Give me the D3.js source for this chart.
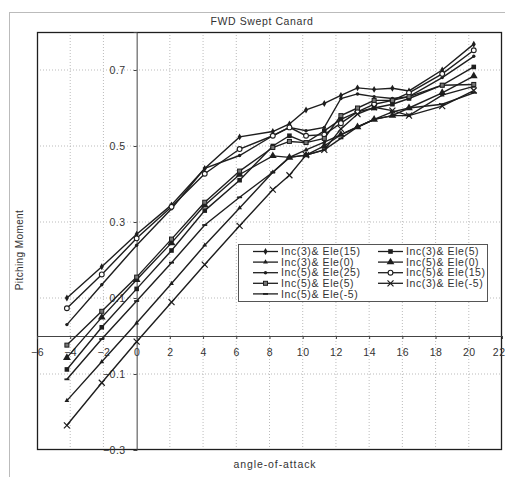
<!DOCTYPE html>
<html>
<head>
<meta charset="utf-8">
<script src="https://cdn.jsdelivr.net/npm/d3@7"></script>
<style>
  body { margin: 0; background: #fff; }
  text { font-family: "Liberation Sans", Arial, sans-serif; fill: #333; }
</style>
</head>
<body>
<svg id="chart" width="505" height="477"></svg>
<script>
// angle-of-attack stations
const alphas = [-4.2, -2.1, 0, 2.1, 4.1, 6.2, 8.2, 9.2, 10.2, 11.3, 12.3, 13.3, 14.3, 15.4, 16.4, 18.4, 20.3];

// pitching moment per configuration
const inc3ele15 = [0.100, 0.182, 0.268, 0.345, 0.441, 0.524, 0.538, 0.558, 0.595, 0.612, 0.633, 0.653, 0.649, 0.652, 0.645, 0.700, 0.768];
const inc3ele5  = [-0.088, 0.023, 0.124, 0.225, 0.330, 0.410, 0.500, 0.527, 0.509, 0.540, 0.570, 0.590, 0.600, 0.610, 0.625, 0.660, 0.708];
const inc3ele0  = [-0.170, -0.068, 0.034, 0.138, 0.239, 0.337, 0.431, 0.470, 0.490, 0.510, 0.530, 0.550, 0.570, 0.580, 0.580, 0.634, 0.657];
const inc5ele0  = [-0.057, 0.049, 0.148, 0.245, 0.344, 0.425, 0.474, 0.470, 0.476, 0.500, 0.530, 0.550, 0.570, 0.580, 0.600, 0.640, 0.684];
const inc5ele25 = [0.030, 0.135, 0.239, 0.335, 0.441, 0.475, 0.527, 0.549, 0.540, 0.549, 0.625, 0.637, 0.630, 0.625, 0.630, 0.680, 0.736];
const inc5ele15 = [0.073, 0.162, 0.257, 0.340, 0.427, 0.492, 0.527, 0.549, 0.527, 0.530, 0.560, 0.590, 0.610, 0.620, 0.640, 0.690, 0.752];
const inc5ele5  = [-0.024, 0.065, 0.155, 0.255, 0.352, 0.434, 0.496, 0.512, 0.509, 0.520, 0.580, 0.600, 0.620, 0.620, 0.630, 0.660, 0.662];
const inc3eleM5 = [-0.235, -0.123, -0.015, 0.089, 0.188, 0.290, 0.385, 0.423, 0.476, 0.490, 0.545, 0.584, 0.602, 0.593, 0.580, 0.605, 0.646];
const inc5eleM5 = [-0.114, -0.008, 0.092, 0.193, 0.292, 0.365, 0.431, 0.470, 0.476, 0.490, 0.520, 0.550, 0.570, 0.590, 0.600, 0.610, 0.640];

const xTicks = [-6, -4, -2, 0, 2, 4, 6, 8, 10, 12, 14, 16, 18, 20, 22];
const yTicks = [-0.3, -0.1, 0.1, 0.3, 0.5, 0.7];

const series = [
  { name: "Inc(3)& Ele(15)", values: inc3ele15, marker: "diamond" },
  { name: "Inc(3)& Ele(5)",  values: inc3ele5,  marker: "square" },
  { name: "Inc(3)& Ele(0)",  values: inc3ele0,  marker: "smalltri" },
  { name: "Inc(5)& Ele(0)",  values: inc5ele0,  marker: "triangle" },
  { name: "Inc(5)& Ele(25)", values: inc5ele25, marker: "dot" },
  { name: "Inc(5)& Ele(15)", values: inc5ele15, marker: "circle" },
  { name: "Inc(5)& Ele(5)",  values: inc5ele5,  marker: "opensquare" },
  { name: "Inc(3)& Ele(-5)", values: inc3eleM5, marker: "cross" },
  { name: "Inc(5)& Ele(-5)", values: inc5eleM5, marker: "dash" }
];

const svg = d3.select("#chart");
const ink = "#1e1e1e";
const font = "Liberation Sans, Arial, sans-serif";

// outer chart border
svg.append("rect")
  .attr("x", 9.5).attr("y", 12.5)
  .attr("width", 520).attr("height", 480)
  .attr("fill", "none").attr("stroke", "#bbb");

const plot = { left: 37, right: 502, top: 32, bottom: 450 };

const x = d3.scaleLinear().domain([-6, 22]).range([plot.left, plot.right]);
const y = d3.scaleLinear().domain([-0.3, 0.8]).range([plot.bottom, plot.top]);

// grid
svg.append("g").selectAll("line")
  .data(xTicks.filter(d => d > -6 && d < 22 && d !== 0))
  .join("line")
  .attr("x1", d => x(d)).attr("x2", d => x(d))
  .attr("y1", plot.top).attr("y2", plot.bottom)
  .attr("stroke", "#aaa").attr("stroke-width", 0.8).attr("stroke-dasharray", "1,2");

svg.append("g").selectAll("line")
  .data(yTicks.filter(d => d > -0.3))
  .join("line")
  .attr("x1", plot.left).attr("x2", plot.right)
  .attr("y1", d => y(d)).attr("y2", d => y(d))
  .attr("stroke", "#aaa").attr("stroke-width", 0.8).attr("stroke-dasharray", "1,2");

// frame
svg.append("rect")
  .attr("x", plot.left + 0.5).attr("y", plot.top + 0.5)
  .attr("width", plot.right - plot.left - 1).attr("height", plot.bottom - plot.top - 1)
  .attr("fill", "none").attr("stroke", ink).attr("stroke-width", 1.3);

// axes crossing at origin
const xAxis = d3.axisBottom(x).tickValues(xTicks).tickSize(3).tickFormat(d3.format("d"));
const gx = svg.append("g").attr("transform", `translate(0,${y(0)})`).call(xAxis);
gx.select(".domain").attr("stroke", "#444");
gx.selectAll(".tick line").attr("stroke", "#444");
gx.selectAll(".tick text").attr("dy", "1.3em").style("font-size", "10.5px").style("letter-spacing", "0.5px")
  .style("font-family", font).attr("fill", "#333");
gx.selectAll(".tick text").filter(d => d === 22).attr("text-anchor", "end").attr("x", 3);

const yAxis = d3.axisLeft(y).tickValues(yTicks).tickSize(3).tickFormat(d3.format(".1f"));
const gy = svg.append("g").attr("transform", `translate(${x(0)},0)`).call(yAxis);
gy.select(".domain").attr("stroke", "#444");
gy.selectAll(".tick line").attr("stroke", "#444");
gy.selectAll(".tick text").attr("x", -11).style("font-size", "10.5px").style("letter-spacing", "0.5px")
  .style("font-family", font).attr("fill", "#333");

// titles
svg.append("text").attr("x", 262).attr("y", 25).attr("text-anchor", "middle")
  .style("font-size", "10.5px").style("letter-spacing", "0.6px").text("FWD Swept Canard");
svg.append("text").attr("x", 275).attr("y", 468).attr("text-anchor", "middle")
  .style("font-size", "10.5px").style("letter-spacing", "0.9px").text("angle-of-attack");
svg.append("text").attr("transform", "translate(23,250) rotate(-90)").attr("text-anchor", "middle")
  .style("font-size", "10px").style("letter-spacing", "0.4px").text("Pitching Moment");

// markers
function drawMarker(g, type, cx, cy) {
  switch (type) {
    case "diamond":
      g.append("path").attr("d", d3.symbol(d3.symbolDiamond, 14)()).attr("transform", `translate(${cx},${cy})`).attr("fill", ink);
      break;
    case "square":
      g.append("rect").attr("x", cx - 2.3).attr("y", cy - 2.3).attr("width", 4.6).attr("height", 4.6).attr("fill", ink);
      break;
    case "smalltri":
      g.append("path").attr("d", d3.symbol(d3.symbolTriangle, 10)()).attr("transform", `translate(${cx},${cy})`).attr("fill", ink);
      break;
    case "triangle":
      g.append("path").attr("d", d3.symbol(d3.symbolTriangle, 26)()).attr("transform", `translate(${cx},${cy})`).attr("fill", ink);
      break;
    case "dot":
      g.append("circle").attr("cx", cx).attr("cy", cy).attr("r", 1.7).attr("fill", ink);
      break;
    case "circle":
      g.append("circle").attr("cx", cx).attr("cy", cy).attr("r", 2.4).attr("fill", "#fff").attr("stroke", ink).attr("stroke-width", 1.1);
      break;
    case "opensquare":
      g.append("rect").attr("x", cx - 2).attr("y", cy - 2).attr("width", 4).attr("height", 4).attr("fill", "#777").attr("stroke", ink).attr("stroke-width", 1);
      break;
    case "cross":
      g.append("path").attr("d", `M${cx - 3},${cy - 3}L${cx + 3},${cy + 3}M${cx - 3},${cy + 3}L${cx + 3},${cy - 3}`)
        .attr("stroke", ink).attr("stroke-width", 1.2);
      break;
    case "dash":
      g.append("path").attr("d", `M${cx - 2.5},${cy}L${cx + 2.5},${cy}`).attr("stroke", ink).attr("stroke-width", 1.8);
      break;
  }
}

const line = d3.line().x(d => x(d[0])).y(d => y(d[1]));

series.forEach(s => {
  const pts = alphas.map((a, i) => [a, s.values[i]]);
  const g = svg.append("g");
  g.append("path").attr("d", line(pts)).attr("fill", "none").attr("stroke", ink).attr("stroke-width", 1.4);
  pts.forEach(p => drawMarker(g, s.marker, x(p[0]), y(p[1])));
});

// legend
const legend = svg.append("g");
legend.append("rect").attr("x", 238.5).attr("y", 244.5).attr("width", 249).attr("height", 57)
  .attr("fill", "#fff").attr("stroke", "#555");
series.forEach((s, i) => {
  const col = i % 2, row = Math.floor(i / 2);
  const lx = col === 0 ? 253 : 378;
  const ly = 251.5 + row * 10.6;
  legend.append("line").attr("x1", lx).attr("x2", lx + 25).attr("y1", ly).attr("y2", ly)
    .attr("stroke", ink).attr("stroke-width", 1.3);
  drawMarker(legend, s.marker, lx + 12.5, ly);
  legend.append("text").attr("x", lx + 28).attr("y", ly + 3.6)
    .style("font-size", "10.5px").style("letter-spacing", "0.6px").text(s.name);
});
</script>
</body>
</html>
